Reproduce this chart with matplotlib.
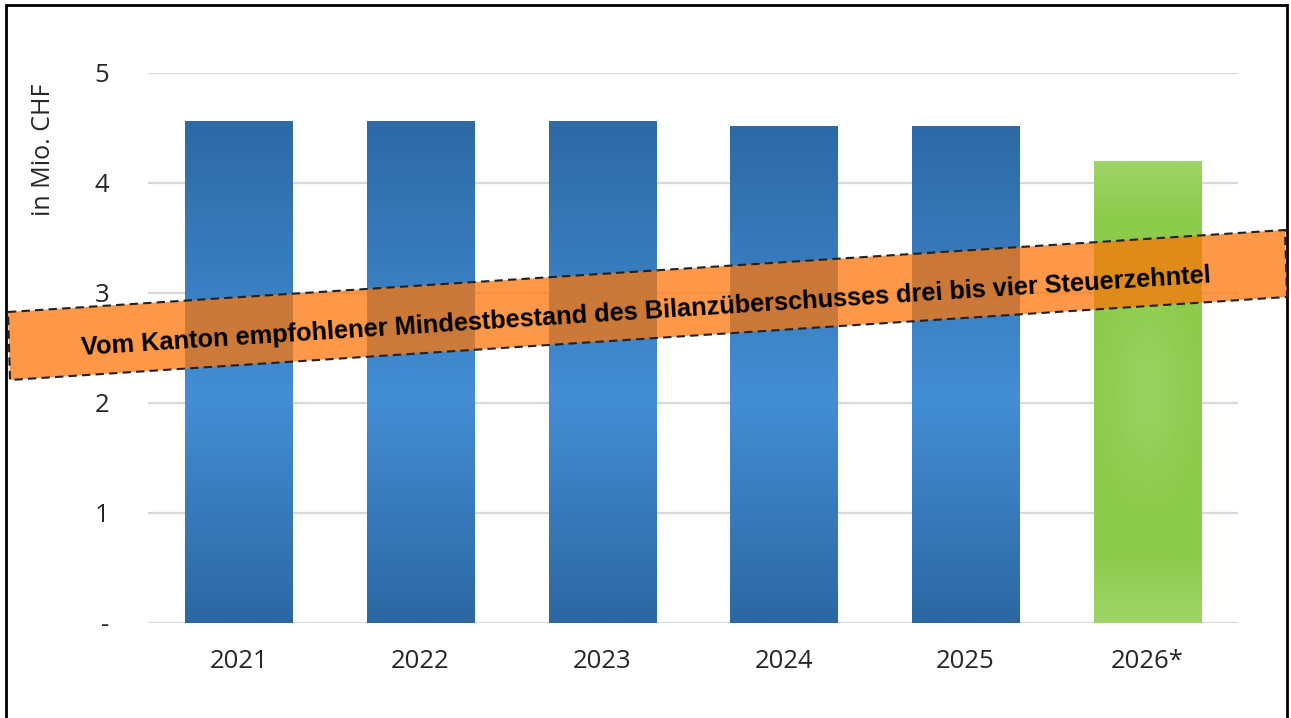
import numpy as np
import matplotlib
matplotlib.use("Agg")
import matplotlib.pyplot as plt
from matplotlib.patches import Polygon, Rectangle
from matplotlib.colors import to_rgb

# Data (Bilanzueberschuss in Mio. CHF)
years = ["2021", "2022", "2023", "2024", "2025", "2026*"]
values = [4.56, 4.56, 4.56, 4.52, 4.52, 4.20]
is_forecast = [False, False, False, False, False, True]

y_ticks = [0, 1, 2, 3, 4, 5]
y_tick_labels = ["-", "1", "2", "3", "4", "5"]
y_label = "in Mio. CHF"
banner_text = "Vom Kanton empfohlener Mindestbestand des Bilanzüberschusses drei bis vier Steuerzehntel"

W, H = 1291, 718
fig = plt.figure(figsize=(W / 100, H / 100), dpi=100)
fig.patch.set_facecolor("white")

ax = fig.add_axes([148 / W, 1 - 623 / H, (1238 - 148) / W, (623 - 73) / H])
ax.set_facecolor("none")
for s in ax.spines.values():
    s.set_visible(False)

# gridlines
for t in y_ticks:
    ax.axhline(t, color="#d9d9d9", lw=1.6, zorder=0)

x = np.arange(len(years))
bars = ax.bar(x, values, width=0.59, color="none", edgecolor="none", zorder=2)


def blue_gradient(n=200):
    top = np.array(to_rgb("#2d69a6"))
    mid = np.array(to_rgb("#438ed4"))
    bot = np.array(to_rgb("#2c67a3"))
    t = np.linspace(0, 1, n)[:, None]
    up = top + (mid - top) * (t / 0.55)
    lo = mid + (bot - mid) * ((t - 0.55) / 0.45)
    img = np.where(t < 0.55, up, lo)
    return np.repeat(img[:, None, :], 20, axis=1)


def green_gradient(n=200, m=40):
    base = np.array(to_rgb("#8ccb4b"))
    light = np.array(to_rgb("#9fd466"))
    t = np.linspace(0, 1, n)[:, None]
    u = np.linspace(-1, 1, m)[None, :]
    edge = np.clip(np.maximum(1 - t / 0.12, (t - 0.85) / 0.15), 0, 1)
    glow = np.exp(-(((t - 0.5) / 0.18) ** 2 + (u / 0.7) ** 2))
    w = np.clip(edge + 0.7 * glow, 0, 1)[:, :, None]
    return base + (light - base) * w


for b, fc in zip(bars, is_forecast):
    x0, w, h = b.get_x(), b.get_width(), b.get_height()
    img = green_gradient() if fc else blue_gradient()
    im = ax.imshow(img, extent=[x0, x0 + w, 0, h], origin="upper",
                   aspect="auto", zorder=2, interpolation="bilinear")
    im.set_clip_path(b)

ax.set_aspect("auto")
ax.set_xlim(-0.5, len(years) - 0.5)
ax.set_ylim(0, 5)

ax.set_xticks(x)
ax.set_xticklabels(years, fontsize=18.5, color="#262626", family="Open Sans")
ax.set_yticks(y_ticks)
ax.set_yticklabels(y_tick_labels, fontsize=18.5, color="#262626", family="Open Sans")
ax.tick_params(axis="both", length=0)
ax.tick_params(axis="x", pad=19)
ax.tick_params(axis="y", pad=28)
ax.set_ylabel(y_label, fontsize=18, color="#262626", family="Open Sans")
ax.yaxis.set_label_coords((56 - 148) / (1238 - 148), (623 - 150) / (623 - 73))

# outer frame
fig.add_artist(Rectangle((6 / W, -0.02), (1287 - 6) / W, 1 - 5 / H + 0.02,
                         transform=fig.transFigure, fill=False,
                         edgecolor="black", lw=2.0, zorder=5))

# tilted orange banner (pixel corners, y from top)
corners_px = [(8, 312), (1285, 230), (1287, 297), (10, 380)]
corners = [(px / W, 1 - py / H) for px, py in corners_px]
fig.add_artist(Polygon(corners, closed=True, transform=fig.transFigure,
                       facecolor=(252 / 255, 118 / 255, 10 / 255), alpha=0.75,
                       edgecolor="none", zorder=6))
fig.add_artist(Polygon(corners, closed=True, transform=fig.transFigure,
                       facecolor="none", edgecolor="#222222", lw=1.5,
                       linestyle=(0, (4, 2.5)), zorder=7))

angle = np.degrees(np.arctan((312 - 230) / (1285 - 8)))
fig.text(646 / W, 1 - 312 / H, banner_text, rotation=angle, rotation_mode="anchor",
         ha="center", va="center", fontsize=18.3, fontweight="bold",
         family="Liberation Sans", color="black", zorder=8)

plt.savefig("out.png", dpi=100)
